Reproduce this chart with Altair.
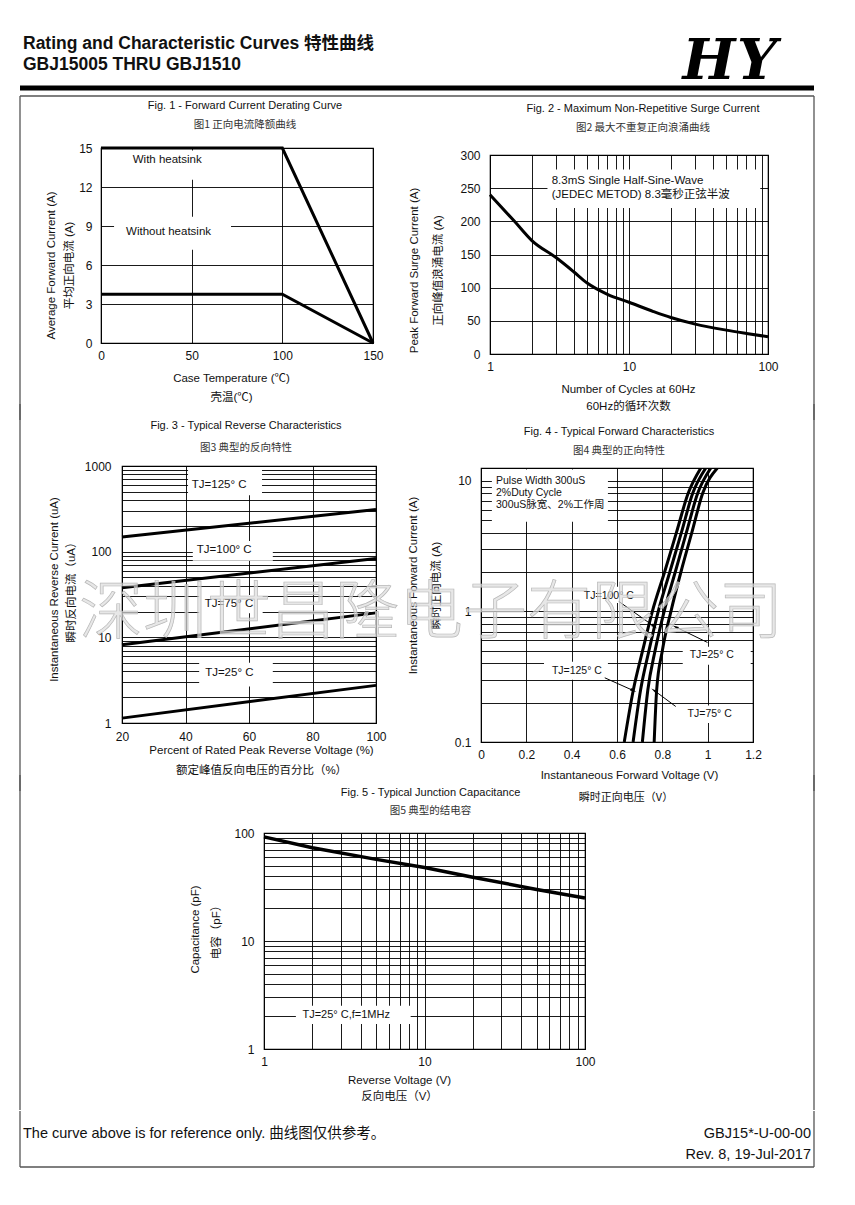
import altair as alt
import pandas as pd

# ---------------- text content ----------------
HEADER_TITLE = "Rating and Characteristic Curves 特性曲线"
HEADER_SUB = "GBJ15005 THRU GBJ1510"
LOGO = ["H", "Y"]
FOOTER_LEFT = "The curve above is for reference only.  曲线图仅供参考。"
FOOTER_RIGHT = ["GBJ15*-U-00-00", "Rev. 8, 19-Jul-2017"]
WATERMARK = "深圳世昌隆电子有限公司"

# ---------------- Fig. 1 ----------------
F1_TEMP = [0, 100, 150]
F1_WITH = [15, 15, 0]
F1_WITHOUT = [3.75, 3.75, 0]
F1_LABELS = ["With heatsink", "Without heatsink"]
F1_XTICKS = [0, 50, 100, 150]
F1_YTICKS = [0, 3, 6, 9, 12, 15]

# ---------------- Fig. 2 ----------------
F2_CYCLES = [1, 1.5, 2, 3, 4, 5, 7, 10, 15, 20, 30, 50, 70, 100]
F2_SURGE = [240, 200, 171, 145, 124, 107, 90, 78, 64, 55, 45, 36, 31, 26]
F2_NOTE = ["8.3mS Single Half-Sine-Wave", "(JEDEC METOD)  8.3毫秒正弦半波"]
F2_XTICKS = [1, 2, 3, 4, 5, 6, 7, 8, 9, 10, 20, 30, 40, 50, 60, 70, 80, 90, 100]
F2_XMAJOR = [1, 10, 100]
F2_YTICKS = [0, 50, 100, 150, 200, 250, 300]

# ---------------- Fig. 3 ----------------
F3_PCT = [20, 100]
F3_IR_125 = [148, 310]
F3_IR_100 = [38, 83]
F3_IR_75 = [8.2, 19.3]
F3_IR_25 = [1.14, 2.75]
F3_LABELS = ["TJ=125°  C", "TJ=100°  C", "TJ=75°  C", "TJ=25°  C"]
F3_XTICKS = [20, 40, 60, 80, 100]
F3_YTICKS = [1, 2, 3, 4, 5, 6, 7, 8, 9, 10, 20, 30, 40, 50, 60, 70, 80, 90,
             100, 200, 300, 400, 500, 600, 700, 800, 900, 1000]
F3_YMAJOR = [1, 10, 100, 1000]

# ---------------- Fig. 4 ----------------
F4_IF = [0.1, 0.25, 0.5, 1, 2, 4, 8, 12.5]
F4_VF_125 = [0.632, 0.672, 0.713, 0.756, 0.810, 0.862, 0.914, 0.970]
F4_VF_100 = [0.671, 0.704, 0.741, 0.782, 0.833, 0.884, 0.934, 0.992]
F4_VF_75 = [0.712, 0.736, 0.768, 0.808, 0.857, 0.906, 0.956, 1.014]
F4_VF_25 = [0.764, 0.775, 0.800, 0.838, 0.882, 0.930, 0.978, 1.043]
F4_NOTE = ["Pulse Width 300uS", "2%Duty Cycle", "300uS脉宽、2%工作周"]
F4_LABELS = ["TJ=100°  C", "TJ=25°  C", "TJ=125°  C", "TJ=75°  C"]
F4_XTITLE = ["Instantaneous Forward Voltage (V)", "瞬时正向电压（V）"]
F4_XTICKS = [0, 0.2, 0.4, 0.6, 0.8, 1, 1.2]
F4_YTICKS = [0.1, 0.2, 0.3, 0.4, 0.5, 0.6, 0.7, 0.8, 0.9, 1, 2, 3, 4, 5, 6, 7, 8, 9, 10]
F4_YMAJOR = [0.1, 1, 10]

# ---------------- Fig. 5 ----------------
F5_VR = [1, 2, 5, 10, 20, 50, 100]
F5_CAP = [92, 73, 57, 48, 39, 30, 25]
F5_NOTE = "TJ=25°  C,f=1MHz"
F5_XTICKS = [1, 2, 3, 4, 5, 6, 7, 8, 9, 10, 20, 30, 40, 50, 60, 70, 80, 90, 100]
F5_YTICKS = [1, 2, 3, 4, 5, 6, 7, 8, 9, 10, 20, 30, 40, 50, 60, 70, 80, 90, 100]
F5_MAJOR = [1, 10, 100]

SANS = "Liberation Sans, Arial, Noto Sans CJK SC"
CJK = "Noto Sans CJK SC, Liberation Sans"
NARROW = "Liberation Sans Narrow, Liberation Sans, Noto Sans CJK SC"
INK = "#111111"
BOXLINE = "#555555"
FRAME = alt.ViewBackground(stroke="#000000", strokeWidth=1.2)
ONE = pd.DataFrame({"v": [0]})


def ax(values, title, tx, ty, lh, angle=0, major=None, pad=8):
    if major is not None:
        expr = f"indexof({major}, datum.value) >= 0 ? format(datum.value, '~g') : ''"
    else:
        expr = "format(datum.value, '~g')"
    return alt.Axis(values=values, grid=True, gridColor="#000000", gridWidth=0.9,
                    domain=False, ticks=False, labelOverlap=False, labelFlush=False,
                    labelFont=SANS, labelFontSize=12, labelColor=INK, labelPadding=pad,
                    labelExpr=expr, title=title, titleFont=SANS, titleFontSize=11.5,
                    titleFontWeight="normal", titleColor=INK, titleBaseline="top",
                    titleAlign="center", titleX=tx, titleY=ty, titleLineHeight=lh,
                    titleAngle=angle)


def ttl(en, zh, offset, dx, subpad):
    return alt.TitleParams(text=en, subtitle=zh, anchor="middle", offset=offset, dx=dx,
                           font=SANS, fontSize=11, fontWeight="normal", color=INK,
                           subtitleFont=CJK, subtitleFontSize=10.5, subtitleColor="#333333",
                           subtitlePadding=subpad)


def boxes(df, X, Y):
    return alt.Chart(df).mark_rect(fill="white").encode(x=X, x2="x2", y=Y, y2="y2")


def texts(df, X, Y, size, align="left", font=SANS, color=INK):
    return alt.Chart(df).mark_text(align=align, baseline="middle", font=font, fontSize=size,
                                   color=color).encode(x=X, y=Y, text="t:N")


def sp(w, h):
    return alt.Chart(ONE).mark_point(opacity=0).properties(width=w, height=h)


def vrule(x, top, bottom):
    return alt.Chart(ONE).mark_rule(color=BOXLINE, strokeWidth=1.3).encode(
        x=alt.value(x), y=alt.value(top), y2=alt.value(bottom))


def hrule(y, x0, x1, color=BOXLINE, width=1.3):
    return alt.Chart(ONE).mark_rule(color=color, strokeWidth=width).encode(
        x=alt.value(x0), x2=alt.value(x1), y=alt.value(y))


def band(w, top, bottom, side_top, extra=()):
    """Spacer fixing its row's vertical band and drawing the page-frame sides."""
    layers = [
        alt.Chart(ONE).mark_rect(fillOpacity=0, strokeOpacity=0).encode(
            x=alt.value(-11), x2=alt.value(-10), y=alt.value(top), y2=alt.value(bottom)),
        vrule(0, side_top, bottom),
        vrule(794, side_top, bottom),
    ] + list(extra)
    return alt.layer(*layers).properties(width=w, height=1)


# ================= Fig 1 =================
X1 = alt.X("x:Q", scale=alt.Scale(domain=[0, 150], nice=False, zero=False),
           axis=ax(F1_XTICKS, ["Case Temperature (℃)", "壳温(℃)"], 130, 29, 19, pad=7))
Y1 = alt.Y("y:Q", scale=alt.Scale(domain=[0, 15], nice=False, zero=False),
           axis=ax(F1_YTICKS, ["Average Forward Current (A)", "平均正向电流 (A)"], -56, 117, 18,
                   angle=270, pad=9))
df1 = pd.DataFrame({"x": F1_TEMP * 2, "y": F1_WITH + F1_WITHOUT,
                    "s": ["with"] * 3 + ["without"] * 3})
fig1 = alt.layer(
    boxes(pd.DataFrame({"x": [13, 7.2], "x2": [62, 71.7], "y": [12.55, 7.18], "y2": [14.8, 9.72]}), X1, Y1),
    alt.Chart(df1).mark_line(color="#000", strokeWidth=3).encode(x=X1, y=Y1, detail="s:N"),
    texts(pd.DataFrame({"x": [17.5, 13.8], "y": [14.1, 8.54], "t": F1_LABELS}), X1, Y1, 11.5),
).properties(width=272, height=195, view=FRAME,
             title=ttl("Fig. 1 - Forward Current Derating Curve", "图1 正向电流降额曲线", 12, 8, 9))

# ================= Fig 2 =================
X2 = alt.X("x:Q", scale=alt.Scale(type="log", domain=[1, 100], nice=False),
           axis=ax(F2_XTICKS, ["Number of Cycles at 60Hz", "60Hz的循环次数"], 138, 29, 17,
                   major=F2_XMAJOR, pad=7))
Y2 = alt.Y("y:Q", scale=alt.Scale(domain=[0, 300], nice=False, zero=False),
           axis=ax(F2_YTICKS, ["Peak Forward Surge Current (A)", "正向峰值浪涌电流  (A)"], -82, 115, 24,
                   angle=270, pad=10))
df2 = pd.DataFrame({"x": F2_CYCLES, "y": F2_SURGE})
fig2 = alt.layer(
    boxes(pd.DataFrame({"x": [2.59], "x2": [88], "y": [220], "y2": [278]}), X2, Y2),
    alt.Chart(df2).mark_line(color="#000", strokeWidth=3, interpolate="monotone").encode(x=X2, y=Y2),
    texts(pd.DataFrame({"x": [2.78, 2.78], "y": [261, 240], "t": F2_NOTE}), X2, Y2, 11.5),
).properties(width=278, height=199, view=FRAME,
             title=ttl("Fig. 2 - Maximum Non-Repetitive Surge Current", "图2 最大不重复正向浪涌曲线", 16, 14, 9))

# ================= Fig 3 =================
X3 = alt.X("x:Q", scale=alt.Scale(domain=[20, 100], nice=False, zero=False),
           axis=ax(F3_XTICKS, ["Percent of Rated Peak Reverse Voltage (%)", "额定峰值反向电压的百分比（%）"],
                   139, 21, 20, pad=8))
Y3 = alt.Y("y:Q", scale=alt.Scale(type="log", domain=[1, 1000], nice=False),
           axis=ax(F3_YTICKS, ["Instantaneous Reverse Current (uA)", "瞬时反向电流（uA）"], -74, 123, 17.5,
                   angle=270, major=F3_YMAJOR, pad=11))
df3 = pd.DataFrame({"x": F3_PCT * 4,
                    "y": F3_IR_125 + F3_IR_100 + F3_IR_75 + F3_IR_25,
                    "s": ["125"] * 2 + ["100"] * 2 + ["75"] * 2 + ["25"] * 2})
fig3 = alt.layer(
    boxes(pd.DataFrame({"x": [40.8, 42.3, 44.3, 44.3], "x2": [64.1, 67.5, 64.3, 67.5],
                        "y": [456, 78.4, 19.1, 2.67], "y2": [975, 133, 31.3, 5.05]}), X3, Y3),
    alt.Chart(df3).mark_line(color="#000", strokeWidth=3).encode(x=X3, y=Y3, detail="s:N"),
    texts(pd.DataFrame({"x": [50.6, 52.2, 53.7, 53.8], "y": [596, 104.4, 24.5, 3.86], "t": F3_LABELS}),
          X3, Y3, 11.5, align="center"),
).properties(width=254, height=257, view=FRAME,
             title=ttl("Fig. 3 - Typical Reverse Characteristics", "图3 典型的反向特性", 7, -3, 11.5))

# ================= Fig 4 =================
X4 = alt.X("x:Q", scale=alt.Scale(domain=[0, 1.2], nice=False, zero=False),
           axis=ax(F4_XTICKS, [F4_XTITLE[0]], 148, 27, 23, pad=7))
Y4 = alt.Y("y:Q", scale=alt.Scale(type="log", domain=[0.1, 12.5], nice=False),
           axis=ax(F4_YTICKS, ["Instantaneous Forward Current (A)", "瞬时正向电流  (A)"], -74, 117, 23,
                   angle=270, major=F4_YMAJOR, pad=10))
df4 = pd.DataFrame({"x": F4_VF_125 + F4_VF_100 + F4_VF_75 + F4_VF_25,
                    "y": F4_IF * 4,
                    "s": ["125"] * 8 + ["100"] * 8 + ["75"] * 8 + ["25"] * 8})
arrows = pd.DataFrame({"x": [0.608, 0.764, 0.999, 0.859, 0.546, 0.671, 0.859, 0.764],
                       "y": [1.19, 0.767, 0.578, 0.759, 0.31, 0.248, 0.187, 0.248],
                       "a": ["a", "a", "b", "b", "c", "c", "d", "d"]})
tips = pd.DataFrame({"x": [0.764, 0.859, 0.671, 0.764], "y": [0.767, 0.759, 0.248, 0.248],
                     "ang": [125, 296, 114, 306]})
fig4 = alt.layer(
    boxes(pd.DataFrame({"x": [0.048, 0.427, 0.89, 0.278, 0.89],
                        "x2": [0.56, 0.705, 1.19, 0.56, 1.19],
                        "y": [4.85, 1.16, 0.39, 0.30, 0.14],
                        "y2": [12.2, 1.54, 0.536, 0.411, 0.19]}), X4, Y4),
    alt.Chart(df4).mark_line(color="#000", strokeWidth=3, interpolate="monotone", clip=True).encode(
        x=X4, y=Y4, detail="s:N"),
    alt.Chart(arrows).mark_line(color="#000", strokeWidth=1).encode(x=X4, y=Y4, detail="a:N"),
    alt.Chart(tips).mark_point(shape="M0,-1L0.4,0.8L-0.4,0.8Z", filled=True, color="#000", size=50,
                               opacity=1).encode(x=X4, y=Y4, angle=alt.Angle("ang:Q", scale=None)),
    texts(pd.DataFrame({"x": [0.066] * 3, "y": [9.86, 8.07, 6.54], "t": F4_NOTE}), X4, Y4, 10.5),
    texts(pd.DataFrame({"x": [0.564, 1.018, 0.423, 1.009], "y": [1.32, 0.466, 0.351, 0.164], "t": F4_LABELS}),
          X4, Y4, 10.5, align="center"),
    # watermark across the page, drawn on top of figures 3 and 4
    alt.Chart(pd.DataFrame({"t": [WATERMARK]})).mark_text(
        align="center", baseline="middle", font=CJK, fontSize=64, fontWeight=300,
        fill="#dddddd", fillOpacity=0.7, stroke="#b8b8b8", strokeWidth=0.7).encode(
        x=alt.value(-50), y=alt.value(146), text="t:N"),
).properties(width=272, height=274, view=FRAME,
             title=ttl("Fig. 4 - Typical Forward Characteristics", "图4 典型的正向特性", 12, 2, 9))

# ================= Fig 5 =================
X5 = alt.X("x:Q", scale=alt.Scale(type="log", domain=[1, 100], nice=False),
           axis=ax(F5_XTICKS, ["Reverse Voltage (V)", "反向电压（V）"], 135, 25, 16, major=F5_MAJOR, pad=7))
Y5 = alt.Y("y:Q", scale=alt.Scale(type="log", domain=[1, 100], nice=False),
           axis=ax(F5_YTICKS, ["Capacitance (pF)", "电容（pF）"], -75, 96, 21, angle=270, major=F5_MAJOR, pad=10))
df5 = pd.DataFrame({"x": F5_VR, "y": F5_CAP})
fig5 = alt.layer(
    boxes(pd.DataFrame({"x": [1.58], "x2": [8.2], "y": [1.7], "y2": [2.52]}), X5, Y5),
    alt.Chart(df5).mark_line(color="#000", strokeWidth=3.5).encode(x=X5, y=Y5),
    texts(pd.DataFrame({"x": [1.735], "y": [2.08], "t": [F5_NOTE]}), X5, Y5, 11),
).properties(width=321, height=216, view=FRAME,
             title=ttl("Fig. 5 - Typical Junction Capacitance", "图5 典型的结电容", 11, 6, 8))

# ================= header / footer =================
header = alt.layer(
    alt.Chart(ONE).mark_rect(fillOpacity=0, strokeOpacity=0).encode(
        x=alt.value(-11), x2=alt.value(-10), y=alt.value(-11), y2=alt.value(81)),
    alt.Chart(pd.DataFrame({"t": [HEADER_TITLE]})).mark_text(
        align="left", baseline="alphabetic", font=SANS, fontSize=17.5, fontWeight="bold", color=INK).encode(
        x=alt.value(3), y=alt.value(29), text="t:N"),
    alt.Chart(pd.DataFrame({"t": [HEADER_SUB]})).mark_text(
        align="left", baseline="alphabetic", font=SANS, fontSize=17.5, fontWeight="bold", color=INK).encode(
        x=alt.value(3), y=alt.value(50), text="t:N"),
    alt.Chart(pd.DataFrame({"t": [LOGO[0]]})).mark_text(
        align="center", baseline="alphabetic", font="DejaVu Serif", fontSize=56, fontWeight="bold",
        fontStyle="italic", color="#000").encode(x=alt.value(689), y=alt.value(59), text="t:N"),
    alt.Chart(pd.DataFrame({"t": [LOGO[1]]})).mark_text(
        align="center", baseline="alphabetic", font="DejaVu Serif", fontSize=56, fontWeight="bold",
        fontStyle="italic", color="#000").encode(x=alt.value(737), y=alt.value(59), text="t:N"),
    hrule(68, 0, 794, color="#000", width=5),
).properties(width=794, height=72)

footer = alt.layer(
    alt.Chart(ONE).mark_rect(fillOpacity=0, strokeOpacity=0).encode(
        x=alt.value(-11), x2=alt.value(-10), y=alt.value(-1), y2=alt.value(60)),
    vrule(0, -1, 55),
    vrule(794, -1, 55),
    hrule(55, 0, 794),
    alt.Chart(pd.DataFrame({"t": [FOOTER_LEFT]})).mark_text(
        align="left", baseline="middle", font=NARROW, fontSize=14.5, color=INK).encode(
        x=alt.value(3), y=alt.value(22), text="t:N"),
    alt.Chart(pd.DataFrame({"t": [FOOTER_RIGHT[0]]})).mark_text(
        align="right", baseline="middle", font=NARROW, fontSize=14.5, color=INK).encode(
        x=alt.value(791), y=alt.value(22), text="t:N"),
    alt.Chart(pd.DataFrame({"t": [FOOTER_RIGHT[1]]})).mark_text(
        align="right", baseline="middle", font=NARROW, fontSize=14.5, color=INK).encode(
        x=alt.value(791), y=alt.value(43), text="t:N"),
).properties(width=794, height=55)

# rows: each begins with a band spacer fixing its vertical extent and the frame sides;
# consecutive bands overlap (negative spacing below)
row1 = alt.hconcat(band(81, -65, 272, -52, extra=[hrule(-52, 0, 794)]), fig1, sp(117, 1),
                   alt.vconcat(sp(1, 7), fig2, spacing=0, bounds="flush"),
                   spacing=0, bounds="flush")
row2 = alt.hconcat(band(102, -62, 325, -62), fig3, sp(105, 1),
                   alt.vconcat(sp(1, 2), fig4, spacing=0, bounds="flush"),
                   spacing=0, bounds="flush")
f4_xtitle_zh = alt.Chart(pd.DataFrame({"t": [F4_XTITLE[1]]})).mark_text(
    align="center", baseline="middle", font=CJK, fontSize=11, color=INK).encode(
    x=alt.value(606), y=alt.value(-35), text="t:N")
row3 = alt.hconcat(band(244, -58, 277, -58, extra=[f4_xtitle_zh]), fig5, spacing=0, bounds="flush")

chart = alt.vconcat(header, row1, row2, row3, footer, spacing=-20).properties(
    padding=0).configure(background="white", view=alt.ViewConfig(stroke="transparent"))

chart.save("out.html", embed_options={"renderer": "svg", "actions": False})
